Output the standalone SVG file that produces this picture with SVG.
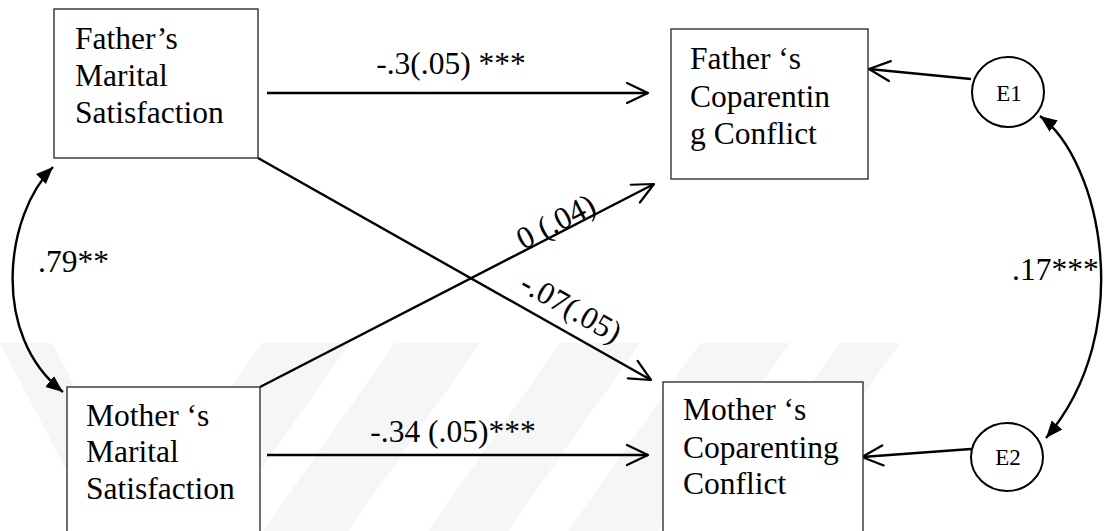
<svg xmlns="http://www.w3.org/2000/svg" width="1111" height="531" viewBox="0 0 1111 531">
  <style>
    .box { fill: #ffffff; stroke: #222222; stroke-width: 1.3; }
    .err { fill: #ffffff; stroke: #000000; stroke-width: 2; }
    text { font-family: "Liberation Serif", "DejaVu Serif", serif; fill: #000000; }
    .lbl { font-size: 31.5px; }
    .small { font-size: 23px; }
    .path { fill: none; stroke: #000000; stroke-width: 2.4; marker-end: url(#open); }
    .cov { fill: none; stroke: #000000; stroke-width: 2.4; marker-start: url(#solid); marker-end: url(#solid); }
    .wm { fill: #f6f6f6; }
  </style>
  <defs>
    <marker id="open" viewBox="-25 -13 28 26" refX="0" refY="0" markerWidth="28" markerHeight="26" markerUnits="userSpaceOnUse" orient="auto">
      <path d="M-21,-10 L0,0 L-21,10" fill="none" stroke="#000000" stroke-width="2.2" stroke-linejoin="round" stroke-linecap="round"/>
    </marker>
    <marker id="solid" viewBox="0 -8 18 16" refX="17" refY="0" markerWidth="18" markerHeight="16" markerUnits="userSpaceOnUse" orient="auto-start-reverse">
      <path d="M0,-7 L17,0 L0,7 z" fill="#000000"/>
    </marker>
  </defs>

  <rect x="0" y="0" width="1111" height="531" fill="#ffffff"/>

  <!-- faint background stripes -->
  <g id="backdrop">
    <polygon class="wm" points="0,343 52,343 150,531 98,531"/>
    <polygon class="wm" points="262,343 350,343 218,531 130,531"/>
    <polygon class="wm" points="395,343 480,343 348,531 263,531"/>
    <polygon class="wm" points="560,343 640,343 508,531 428,531"/>
    <polygon class="wm" points="700,343 790,343 658,531 568,531"/>
    <polygon class="wm" points="840,343 900,343 768,531 708,531"/>
  </g>

  <!-- regression paths and covariances -->
  <g id="connectors">
    <path class="path" d="M267,93 H648"/>
    <path class="path" d="M267,455 H648"/>
    <path class="path" d="M258,158 L651,380"/>
    <path class="path" d="M260,387 L654,184"/>
    <path class="path" d="M971,79 L869,69"/>
    <path class="path" d="M971,449 L862,457"/>
    <path class="cov" d="M53,167 C5,215 -10,335 63,392"/>
    <path class="cov" d="M1040,116 C1100,160 1138,330 1046,438"/>
  </g>

  <g id="labels">
    <text class="lbl" x="451" y="74" text-anchor="middle">-.3(.05) ***</text>
    <text class="lbl" x="453" y="442" text-anchor="middle">-.34 (.05)***</text>
    <text class="lbl" x="38" y="272">.79**</text>
    <text class="lbl" x="1012" y="280">.17***</text>
    <text class="lbl" transform="translate(556,222) rotate(-27.3)" x="0" y="10" text-anchor="middle">0 (.04)</text>
    <text class="lbl" transform="translate(571,308) rotate(29.5)" x="0" y="10" text-anchor="middle">-.07(.05)</text>
  </g>

  <g id="father-marital">
    <rect class="box" x="54" y="9" width="204" height="149"/>
    <text class="lbl" x="75" y="49">Father’s</text>
    <text class="lbl" x="75" y="86">Marital</text>
    <text class="lbl" x="75" y="123">Satisfaction</text>
  </g>

  <g id="mother-marital">
    <rect class="box" x="67" y="387" width="193" height="160"/>
    <text class="lbl" x="86" y="426">Mother ‘s</text>
    <text class="lbl" x="86" y="462">Marital</text>
    <text class="lbl" x="86" y="499">Satisfaction</text>
  </g>

  <g id="father-coparenting">
    <rect class="box" x="671" y="29" width="197" height="150"/>
    <text class="lbl" x="690" y="69">Father ‘s</text>
    <text class="lbl" x="690" y="107">Coparentin</text>
    <text class="lbl" x="690" y="144">g Conflict</text>
  </g>

  <g id="mother-coparenting">
    <rect class="box" x="663" y="382" width="200" height="165"/>
    <text class="lbl" x="683" y="420">Mother ‘s</text>
    <text class="lbl" x="683" y="458">Coparenting</text>
    <text class="lbl" x="683" y="494">Conflict</text>
  </g>

  <g id="e1">
    <ellipse class="err" cx="1008" cy="92" rx="36" ry="35"/>
    <text class="small" x="1009" y="101" text-anchor="middle">E1</text>
  </g>

  <g id="e2">
    <ellipse class="err" cx="1007" cy="457" rx="36" ry="34"/>
    <text class="small" x="1008" y="465" text-anchor="middle">E2</text>
  </g>
</svg>
